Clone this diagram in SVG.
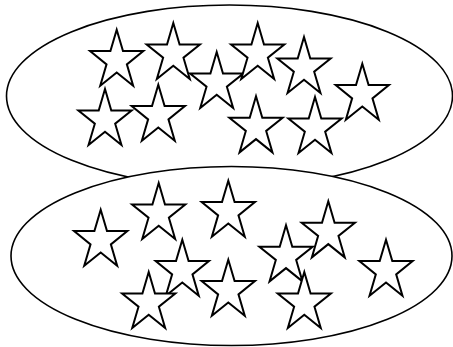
<svg xmlns="http://www.w3.org/2000/svg" xmlns:xlink="http://www.w3.org/1999/xlink" width="453" height="347" viewBox="0 0 453 347">
  <style>
    .oval { fill: #ffffff; stroke: #000000; stroke-width: 1.6; }
    .star { fill: #ffffff; stroke: #000000; stroke-width: 2; stroke-linejoin: miter; stroke-miterlimit: 10; }
  </style>
  <defs>
    <path id="star" d="M0,-31 L6.29,-9.58 L26.63,-9.58 L10.17,3.66 L16.46,25.08 L0,11.84 L-16.46,25.08 L-10.17,3.66 L-26.63,-9.58 L-6.29,-9.58 Z"/>
  </defs>
  <rect width="453" height="347" fill="#ffffff"/>
  <g id="set-top">
    <ellipse class="oval" cx="229.5" cy="96" rx="223" ry="91"/>
    <g id="top-stars" class="star">
      <use xlink:href="#star" href="#star" x="116.7" y="60.7"/>
      <use xlink:href="#star" href="#star" x="173.3" y="54"/>
      <use xlink:href="#star" href="#star" x="216.7" y="83"/>
      <use xlink:href="#star" href="#star" x="257.7" y="54"/>
      <use xlink:href="#star" href="#star" x="304" y="68"/>
      <use xlink:href="#star" href="#star" x="362.3" y="94.7"/>
      <use xlink:href="#star" href="#star" x="105" y="120"/>
      <use xlink:href="#star" href="#star" x="158.3" y="115.7"/>
      <use xlink:href="#star" href="#star" x="256" y="127.3"/>
      <use xlink:href="#star" href="#star" x="315" y="128"/>
    </g>
  </g>
  <g id="set-bottom">
    <ellipse class="oval" cx="231.5" cy="256" rx="220.5" ry="89.5"/>
    <g id="bottom-stars" class="star">
      <use xlink:href="#star" href="#star" x="100.7" y="240.7"/>
      <use xlink:href="#star" href="#star" x="158.7" y="214"/>
      <use xlink:href="#star" href="#star" x="228.3" y="211.7"/>
      <use xlink:href="#star" href="#star" x="328.3" y="232.3"/>
      <use xlink:href="#star" href="#star" x="286" y="256.3"/>
      <use xlink:href="#star" href="#star" x="182.3" y="270.7"/>
      <use xlink:href="#star" href="#star" x="386" y="270.7"/>
      <use xlink:href="#star" href="#star" x="228.3" y="290.7"/>
      <use xlink:href="#star" href="#star" x="148.7" y="303"/>
      <use xlink:href="#star" href="#star" x="304.3" y="303"/>
    </g>
  </g>
</svg>
